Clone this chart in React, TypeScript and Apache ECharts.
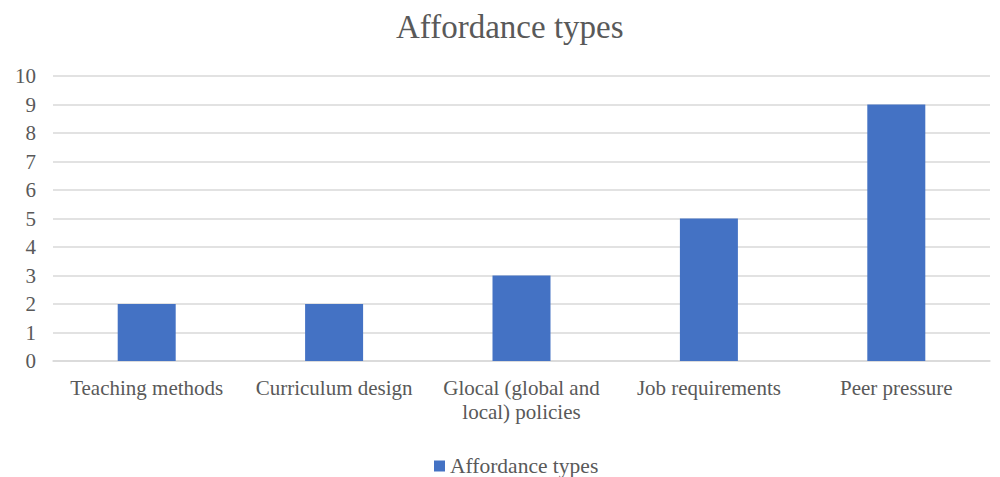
import React, { useEffect, useRef } from "react";
import * as echarts from "echarts";

const categories = [
  "Teaching methods",
  "Curriculum design",
  "Glocal (global and\nlocal) policies",
  "Job requirements",
  "Peer pressure",
];
const values = [2, 2, 3, 5, 9];
const seriesName = "Affordance types";
const titleText = "Affordance types";

export default function App() {
  const ref = useRef<HTMLDivElement>(null);
  useEffect(() => {
    const chart = echarts.init(ref.current!, null, { renderer: "svg" });
    const font = "'Liberation Serif', 'Times New Roman', serif";
    chart.setOption({
      animation: false,
      backgroundColor: "#ffffff",
      title: {
        text: titleText,
        left: 391,
        top: 5,
        textStyle: { fontFamily: font, fontSize: 33, fontWeight: "normal", color: "#595959" },
      },
      legend: {
        top: 450,
        left: 429,
        itemWidth: 11,
        itemHeight: 11,
        itemGap: 10,
        icon: "rect",
        textStyle: { fontFamily: font, fontSize: 21.5, color: "#595959" },
        data: [seriesName],
      },
      grid: { left: 53, right: 10, top: 76, bottom: 116, containLabel: false },
      xAxis: {
        type: "category",
        data: categories,
        axisLine: { show: true, lineStyle: { color: "#d9d9d9", width: 1.5 } },
        axisTick: { show: false },
        axisLabel: {
          fontFamily: font,
          fontSize: 21,
          color: "#595959",
          margin: 15,
          lineHeight: 24,
          interval: 0,
        },
      },
      yAxis: {
        type: "value",
        min: 0,
        max: 10,
        interval: 1,
        axisLine: { show: false },
        axisTick: { show: false },
        splitLine: { lineStyle: { color: "#d9d9d9", width: 1.5 } },
        axisLabel: { fontFamily: font, fontSize: 21, color: "#595959", margin: 17 },
      },
      series: [
        {
          name: seriesName,
          type: "bar",
          data: values,
          barWidth: 58,
          itemStyle: { color: "#4472C4" },
        },
      ],
    });
    return () => chart.dispose();
  }, []);
  return (
    <div
      ref={ref}
      style={{ position: "fixed", left: 0, top: 0, width: 1000, height: 477 }}
    />
  );
}
